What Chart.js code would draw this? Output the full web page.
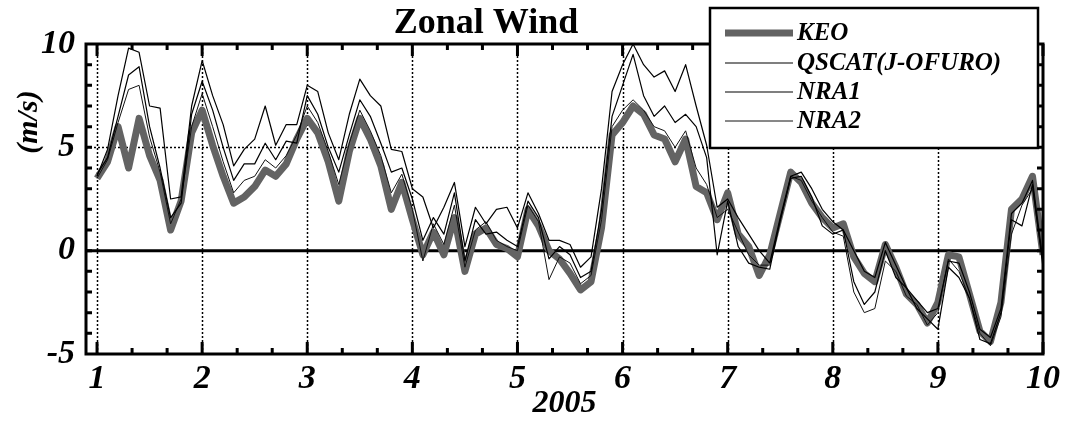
<!DOCTYPE html>
<html>
<head>
<meta charset="utf-8">
<title>Zonal Wind</title>
<script src="https://cdn.jsdelivr.net/npm/chart.js@4.4.1/dist/chart.umd.min.js"></script>
<style>
  html, body { margin: 0; padding: 0; background: #ffffff; }
  canvas { display: block; }
</style>
</head>
<body>
<canvas id="windChart" width="1068" height="423"></canvas>
<script>
// month of 2005 (1 = Jan 1), sampled every ~3 days
const months = [
    1.0, 1.1, 1.2, 1.3, 1.4, 1.5, 1.6, 1.7, 1.8, 1.9,
    2.0, 2.1, 2.2, 2.3, 2.4, 2.5, 2.6, 2.7, 2.8, 2.9,
    3.0, 3.1, 3.2, 3.3, 3.4, 3.5, 3.6, 3.7, 3.8, 3.9,
    4.0, 4.1, 4.2, 4.3, 4.4, 4.5, 4.6, 4.7, 4.8, 4.9,
    5.0, 5.1, 5.2, 5.3, 5.4, 5.5, 5.6, 5.7, 5.8, 5.9,
    6.0, 6.1, 6.2, 6.3, 6.4, 6.5, 6.6, 6.7, 6.8, 6.9,
    7.0, 7.1, 7.2, 7.3, 7.4, 7.5, 7.6, 7.7, 7.8, 7.9,
    8.0, 8.1, 8.2, 8.3, 8.4, 8.5, 8.6, 8.7, 8.8, 8.9,
    9.0, 9.1, 9.2, 9.3, 9.4, 9.5, 9.6, 9.7, 9.8, 9.9,
    10.0
];

const keo = [
    3.5, 4.3, 6.0, 4.0, 6.4, 4.6, 3.4, 1.0, 2.4, 5.7,
    6.8, 5.1, 3.6, 2.3, 2.6, 3.1, 3.9, 3.6, 4.2, 5.4,
    6.4, 5.7, 4.3, 2.4, 4.8, 6.4, 5.4, 4.1, 2.0, 3.3,
    1.5, -0.2, 0.9, -0.2, 1.6, -1.0, 0.8, 1.1, 0.3, 0.1,
    -0.3, 2.0, 1.2, 0.0, -0.4, -1.1, -1.9, -1.5, 1.1, 5.6,
    6.2, 7.0, 6.6, 5.6, 5.4, 4.3, 5.4, 3.1, 2.8, 1.5,
    2.8, 0.8, 0.2, -1.2, -0.2, 1.8, 3.8, 3.3, 2.3, 1.6,
    1.1, 1.3, -0.3, -1.1, -1.5, 0.3, -0.8, -2.1, -2.6, -3.5,
    -2.5, -0.2, -0.3, -2.1, -3.9, -4.4, -2.5, 2.0, 2.5, 3.6,
    -0.2
];

const qscat = [
    3.6, 4.9, 7.5, 9.8, 9.6, 7.0, 6.9, 2.5, 2.6, 7.0,
    9.2, 7.5, 6.1, 4.1, 4.9, 5.4, 7.0, 5.1, 6.1, 6.1,
    8.0, 7.7, 5.7, 4.4, 6.6, 8.3, 7.5, 7.0, 4.9, 4.8,
    3.0, 2.6, 1.1, 2.1, 3.3, 0.2, 2.1, 1.3, 2.0, 2.1,
    1.1, 2.8, 1.8, 0.5, 0.5, 0.3, -0.8, -0.3, 3.0, 7.7,
    9.0, 10.0, 9.0, 8.4, 8.7, 7.7, 9.0, 7.0, 5.1, 2.1,
    2.5, 1.6, 0.8, 0.0, -0.6, 1.6, 3.6, 3.8, 3.0, 2.0,
    1.4, 1.0, 0.0, -1.0, -1.3, 0.4, -0.7, -1.8, -2.4, -3.0,
    -2.8, -0.5, -0.6, -2.0, -3.8, -4.2, -2.8, 1.8, 2.3, 3.4,
    -0.5
];

const nra1 = [
    3.7, 4.5, 6.5, 8.5, 8.9, 6.0, 4.0, 1.6, 2.3, 6.6,
    8.2, 6.8, 5.0, 3.4, 4.2, 4.2, 5.2, 4.4, 5.3, 5.2,
    7.5, 6.6, 5.0, 3.8, 5.6, 7.3, 6.5, 5.2, 3.8, 4.0,
    2.5, 0.5, 1.6, 0.8, 2.8, -0.5, 1.5, 0.8, 0.9, 0.5,
    0.2, 2.4, 1.6, -0.4, 0.2, -0.2, -1.3, -1.0, 2.0, 6.5,
    8.0, 9.5, 7.5, 6.5, 7.0, 6.2, 6.6, 6.0, 4.5, -0.2,
    2.4, 0.2, -0.6, -0.8, -0.9, 1.5, 3.5, 3.6, 2.6, 1.2,
    0.8, 1.0, -1.5, -2.6, -2.0, 0.0, -1.3, -1.8, -2.8, -3.3,
    -3.8, -0.8, -1.3, -2.3, -4.3, -4.5, -3.0, 1.5, 1.2, 3.2,
    -0.8
];

const nra2 = [
    3.5, 4.4, 6.2, 7.8, 8.0, 5.5, 3.8, 1.3, 2.5, 6.0,
    7.6, 6.0, 4.3, 2.8, 3.4, 3.6, 4.4, 4.0, 4.6, 5.6,
    7.0, 6.2, 4.8, 3.2, 5.2, 6.8, 5.8, 4.6, 2.8, 3.7,
    2.0, -0.5, 1.3, 0.3, 2.2, -0.8, 1.0, 1.4, 0.5, 0.2,
    0.0, 2.2, 1.4, -1.4, -0.3, -0.6, -1.6, -1.2, 1.5, 6.0,
    6.8, 7.3, 6.8, 6.0, 5.8, 5.0, 5.8, 4.0, 3.2, 1.6,
    2.0, 0.9, -0.2, -0.7, -0.7, 1.4, 3.6, 3.4, 2.4, 1.6,
    0.9, 0.7, -2.0, -3.0, -2.8, -0.5, -1.0, -2.2, -2.6, -3.6,
    -3.0, -0.4, -1.0, -2.3, -4.0, -4.6, -3.2, 0.8, 2.2, 3.0,
    -0.6
];

const monthTicks = [1, 2, 3, 4, 5, 6, 7, 8, 9, 10];
const windTicks = [-5, 0, 5, 10];
const seriesNames = ['KEO', 'QSCAT(J-OFURO)', 'NRA1', 'NRA2'];

const KEO_GRAY = '#636363';
const SERIF = '"Liberation Serif", "Times New Roman", serif';

function toPoints(values) {
    return months.map((m, i) => ({ x: m, y: values[i] }));
}

// axes frame, inward ticks, dotted grid, zero line, legend box, title
const framePlugin = {
    id: 'framePlugin',
    beforeDatasetsDraw(chart) {
        const { ctx, chartArea: a, scales: { x, y } } = chart;
        ctx.save();
        ctx.strokeStyle = '#000';
        ctx.lineWidth = 1.5;
        ctx.setLineDash([2, 2]);
        monthTicks.forEach(m => {
            if (m >= 10) return;
            const px = Math.round(x.getPixelForValue(m)) + 0.5;
            ctx.beginPath();
            ctx.moveTo(px, a.top);
            ctx.lineTo(px, a.bottom);
            ctx.stroke();
        });
        const y5 = Math.round(y.getPixelForValue(5)) + 0.5;
        ctx.beginPath();
        ctx.moveTo(a.left, y5);
        ctx.lineTo(a.right, y5);
        ctx.stroke();
        ctx.setLineDash([]);
        ctx.lineWidth = 3;
        const y0 = y.getPixelForValue(0);
        ctx.beginPath();
        ctx.moveTo(a.left, y0);
        ctx.lineTo(a.right, y0);
        ctx.stroke();
        ctx.restore();
    },
    afterDatasetsDraw(chart) {
        const { ctx, chartArea: a, scales: { x, y } } = chart;
        ctx.save();
        ctx.strokeStyle = '#000';
        ctx.lineWidth = 3;
        ctx.strokeRect(a.left, a.top, a.right - a.left, a.bottom - a.top);

        // x ticks: major at months, minor at thirds
        for (let k = 3; k <= 30; k++) {
            const m = k / 3;
            const px = x.getPixelForValue(m);
            const len = k % 3 === 0 ? 12 : 6;
            ctx.lineWidth = 3;
            ctx.beginPath();
            ctx.moveTo(px, a.bottom);
            ctx.lineTo(px, a.bottom - len);
            ctx.moveTo(px, a.top);
            ctx.lineTo(px, a.top + len);
            ctx.stroke();
        }
        // y ticks every 1 m/s on both sides
        for (let v = -4; v <= 9; v++) {
            const py = y.getPixelForValue(v);
            ctx.lineWidth = 3;
            ctx.beginPath();
            ctx.moveTo(a.left, py);
            ctx.lineTo(a.left + 6, py);
            ctx.moveTo(a.right, py);
            ctx.lineTo(a.right - 6, py);
            ctx.stroke();
        }

        // legend box
        const bx = 710, by = 8, bw = 328, bh = 140;
        ctx.fillStyle = '#fff';
        ctx.fillRect(bx, by, bw, bh);
        ctx.lineWidth = 2.5;
        ctx.strokeRect(bx, by, bw, bh);
        const rows = [33, 63, 92, 121];
        ctx.font = 'italic bold 25px ' + SERIF;
        ctx.textBaseline = 'middle';
        ctx.textAlign = 'left';
        chart.data.datasets.forEach((ds, i) => {
            ctx.strokeStyle = ds.borderColor;
            ctx.lineWidth = ds.borderWidth;
            ctx.beginPath();
            ctx.moveTo(725, rows[i]);
            ctx.lineTo(793, rows[i]);
            ctx.stroke();
            ctx.fillStyle = '#000';
            ctx.fillText(ds.label, 797, rows[i] + 1);
        });

        // title
        ctx.fillStyle = '#000';
        ctx.font = 'bold 36px ' + SERIF;
        ctx.textAlign = 'center';
        ctx.textBaseline = 'alphabetic';
        ctx.fillText('Zonal Wind', 486, 33);

        // y-axis title
        ctx.translate(29, 122);
        ctx.rotate(-Math.PI / 2);
        ctx.font = 'italic bold 30px ' + SERIF;
        ctx.textBaseline = 'middle';
        ctx.fillText('(m/s)', 0, 0);
        ctx.restore();
    }
};

const windData = {
    datasets: [
        {
            label: seriesNames[0],
            data: toPoints(keo),
            borderColor: KEO_GRAY,
            borderWidth: 7,
            order: 1
        },
        {
            label: seriesNames[1],
            data: toPoints(qscat),
            borderColor: '#000',
            borderWidth: 1.2,
            order: 0
        },
        {
            label: seriesNames[2],
            data: toPoints(nra1),
            borderColor: '#000',
            borderWidth: 1.2,
            order: 0
        },
        {
            label: seriesNames[3],
            data: toPoints(nra2),
            borderColor: '#111',
            borderWidth: 1,
            order: 0
        }
    ]
};

const windConfig = {
    type: 'line',
    data: windData,
    options: {
        responsive: false,
        animation: false,
        layout: { padding: { left: 0, right: 25, top: 44, bottom: 0 } },
        elements: {
            point: { radius: 0 },
            line: { tension: 0, fill: false, borderJoinStyle: 'round' }
        },
        scales: {
            x: {
                type: 'linear',
                min: 0.895,
                max: 10,
                afterBuildTicks: scale => {
                    scale.ticks = monthTicks.map(v => ({ value: v }));
                },
                afterFit: scale => { scale.height = 69; },
                grid: { display: false, drawTicks: false },
                border: { display: false },
                ticks: {
                    autoSkip: false,
                    maxRotation: 0,
                    padding: 5,
                    color: '#000',
                    font: { family: SERIF, size: 34, style: 'italic', weight: 'bold' },
                    callback: v => String(v)
                },
                title: {
                    display: true,
                    text: '2005',
                    color: '#000',
                    padding: { top: 0, bottom: 0 },
                    font: { family: SERIF, size: 32, style: 'italic', weight: 'bold' }
                }
            },
            y: {
                min: -5,
                max: 10,
                afterBuildTicks: scale => {
                    scale.ticks = windTicks.map(v => ({ value: v }));
                },
                afterFit: scale => { scale.width = 86; },
                grid: { display: false, drawTicks: false },
                border: { display: false },
                ticks: {
                    padding: 11,
                    color: '#000',
                    font: { family: SERIF, size: 34, style: 'italic', weight: 'bold' },
                    callback: v => String(v)
                }
            }
        },
        plugins: {
            legend: { display: false },
            tooltip: { enabled: false },
            title: { display: false }
        }
    },
    plugins: [framePlugin]
};

window.onload = function () {
    const ctx = document.getElementById('windChart').getContext('2d');
    new Chart(ctx, windConfig);
};
</script>
</body>
</html>
